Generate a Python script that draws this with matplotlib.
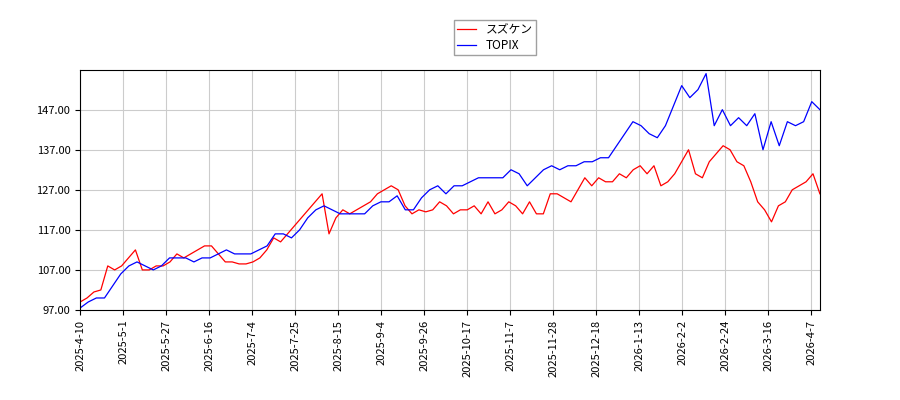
import matplotlib
matplotlib.use("Agg")
import matplotlib.pyplot as plt
import numpy as np

plt.rcParams['font.family'] = ['Noto Sans CJK JP', 'DejaVu Sans']

tick_labels = ["2025-4-10","2025-5-1","2025-5-27","2025-6-16","2025-7-4","2025-7-25",
               "2025-8-15","2025-9-4","2025-9-26","2025-10-17","2025-11-7","2025-11-28",
               "2025-12-18","2026-1-13","2026-2-2","2026-2-24","2026-3-16","2026-4-7"]

suzuken = [99,100,101.5,102,108,107,108,110,112,107,107,108,108,109,111,110,111,112,113,113,111,109,
           109,108.5,108.5,109,110,112,115,114,116,118,120,122,124,126,116,120,122,121,122,123,124,
           126,127,128,127,123,121,122,121.5,122,124,123,121,122,122,123,121,124,121,122,124,123,121,
           124,121,121,126,126,125,124,127,130,128,130,129,129,131,130,132,133,131,133,128,129,131,
           134,137,131,130,134,136,138,137,134,133,129,124,122,119,123,124,127,128,129,131,126]

topix = [97.5,99,100,100,103,106,108,109,108,107,108,110,110,110,109,110,110,111,112,111,111,111,
         112,113,116,116,115,117,120,122,123,122,121,121,121,121,123,124,124,125.5,122,122,125,127,
         128,126,128,128,129,130,130,130,130,132,131,128,130,132,133,132,133,133,134,134,135,135,
         138,141,144,143,141,140,143,148,153,150,152,156,143,147,143,145,143,146,137,144,138,144,
         143,144,149,147]

n_days = 258
suzuken_idx = np.linspace(0, n_days, len(suzuken))
topix_idx = np.linspace(0, n_days, len(topix))

fig = plt.figure(figsize=(9, 4), dpi=100)
ax = fig.add_axes([0.089, 0.225, 0.822, 0.6])
ax.plot(suzuken_idx, suzuken, color='red', lw=0.9, label='スズケン')
ax.plot(topix_idx, topix, color='blue', lw=0.9, label='TOPIX')
ax.set_xlim(0, n_days)
ax.set_ylim(97, 156.9)
ax.set_yticks(np.arange(97, 148, 10))
ax.yaxis.set_major_formatter(matplotlib.ticker.FormatStrFormatter('%.2f'))
ax.set_xticks(np.arange(0, 15*len(tick_labels), 15))
ax.set_xticklabels(tick_labels, rotation=90)
ax.tick_params(labelsize=8)
ax.grid(True, color='#cccccc', lw=0.8)
fig.legend(loc='upper center', bbox_to_anchor=(0.55, 0.965), fontsize=8.5,
           fancybox=False, edgecolor='#888888', borderpad=0.3, labelspacing=0.2,
           handlelength=1.6)
fig.savefig('out.png')
